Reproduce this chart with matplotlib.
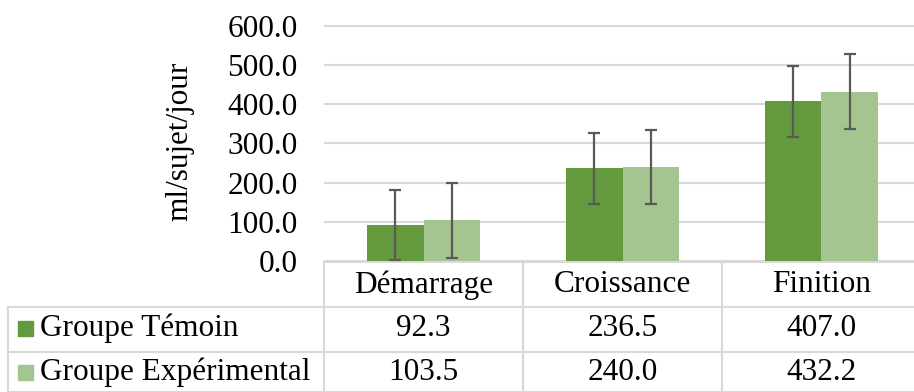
import matplotlib
matplotlib.use("Agg")
import matplotlib.pyplot as plt
import matplotlib.transforms as mtransforms
from matplotlib.patches import Rectangle

categories = ["Démarrage", "Croissance", "Finition"]
series_names = ["Groupe Témoin", "Groupe Expérimental"]
temoin = [92.3, 236.5, 407.0]
experimental = [103.5, 240.0, 432.2]
temoin_err = [89, 91, 91]
experimental_err = [95, 95, 96]
yticks = [0, 100, 200, 300, 400, 500, 600]
ylabel = "ml/sujet/jour"

colors = ["#629A3D", "#A4C58F"]
W, H = 914, 392
FS = 22.5
plt.rcParams['font.family'] = ['Liberation Serif', 'DejaVu Serif']

fig = plt.figure(figsize=(W / 100, H / 100), dpi=100)
# overlay axes in pixel coordinates for the data table
ov = fig.add_axes([0, 0, 1, 1])
ov.set_xlim(0, W)
ov.set_ylim(H, 0)
ov.axis('off')

x0, x1 = 324, 921
y0, ytop = 261, 21.8
ax = fig.add_axes([x0 / W, (H - y0) / H, (x1 - x0) / W, (y0 - ytop) / H])
ax.set_xlim(-0.5, 2.5)
ax.set_ylim(0, 610)
ax.patch.set_alpha(0)

bw = 0.286
xs = range(len(categories))
for vals, errs, col, off in [(temoin, temoin_err, colors[0], -bw / 2),
                              (experimental, experimental_err, colors[1], bw / 2)]:
    pos = [x + off for x in xs]
    ax.bar(pos, vals, width=bw, color=col, zorder=2)
    ax.errorbar(pos, vals, yerr=errs, fmt='none', ecolor='#595959',
                elinewidth=1.6, capsize=4.5, capthick=1.6, zorder=3)

ax.set_yticks(yticks)
ax.set_yticklabels([f"{v:.1f}" for v in yticks], fontsize=FS)
ax.tick_params(axis='y', length=0, pad=19)
ax.set_xticks([])
for s in ax.spines.values():
    s.set_visible(False)
ax.yaxis.grid(True, color='#D9D9D9', linewidth=1.5, zorder=0)
ax.set_axisbelow(True)
ax.set_ylabel(ylabel, fontsize=FS)
ax.yaxis.set_label_coords(-0.218, 0.5)

# table
tr = mtransforms.blended_transform_factory(ax.transData, ov.transData)
lc = '#D9D9D9'
lw = 1.5
ov.plot([x0, x1], [262, 262], color=lc, lw=lw, clip_on=False)
ov.plot([8, x1], [306.5, 306.5], color=lc, lw=lw, clip_on=False)
ov.plot([8, x1], [351.5, 351.5], color=lc, lw=lw, clip_on=False)
ov.plot([8, x1], [392, 392], color=lc, lw=lw, clip_on=False)
ov.plot([8, 8], [306.5, 392], color=lc, lw=lw)
for i in range(len(categories) + 1):
    ov.plot([i - 0.5, i - 0.5], [262, 392], color=lc, lw=lw, transform=tr, clip_on=False)

for i, c in enumerate(categories):
    ov.text(i, 285, c, transform=tr, ha='center', va='center', fontsize=FS)
    ov.text(i, 328, f"{temoin[i]:.1f}", transform=tr, ha='center', va='center', fontsize=FS)
    ov.text(i, 372, f"{experimental[i]:.1f}", transform=tr, ha='center', va='center', fontsize=FS)

for name, col, yy in zip(series_names, colors, [328, 372]):
    ov.add_patch(Rectangle((18, yy - 7.5), 15, 15, color=col))
    ov.text(40, yy, name, ha='left', va='center', fontsize=FS)

fig.savefig("out.png", dpi=100)
